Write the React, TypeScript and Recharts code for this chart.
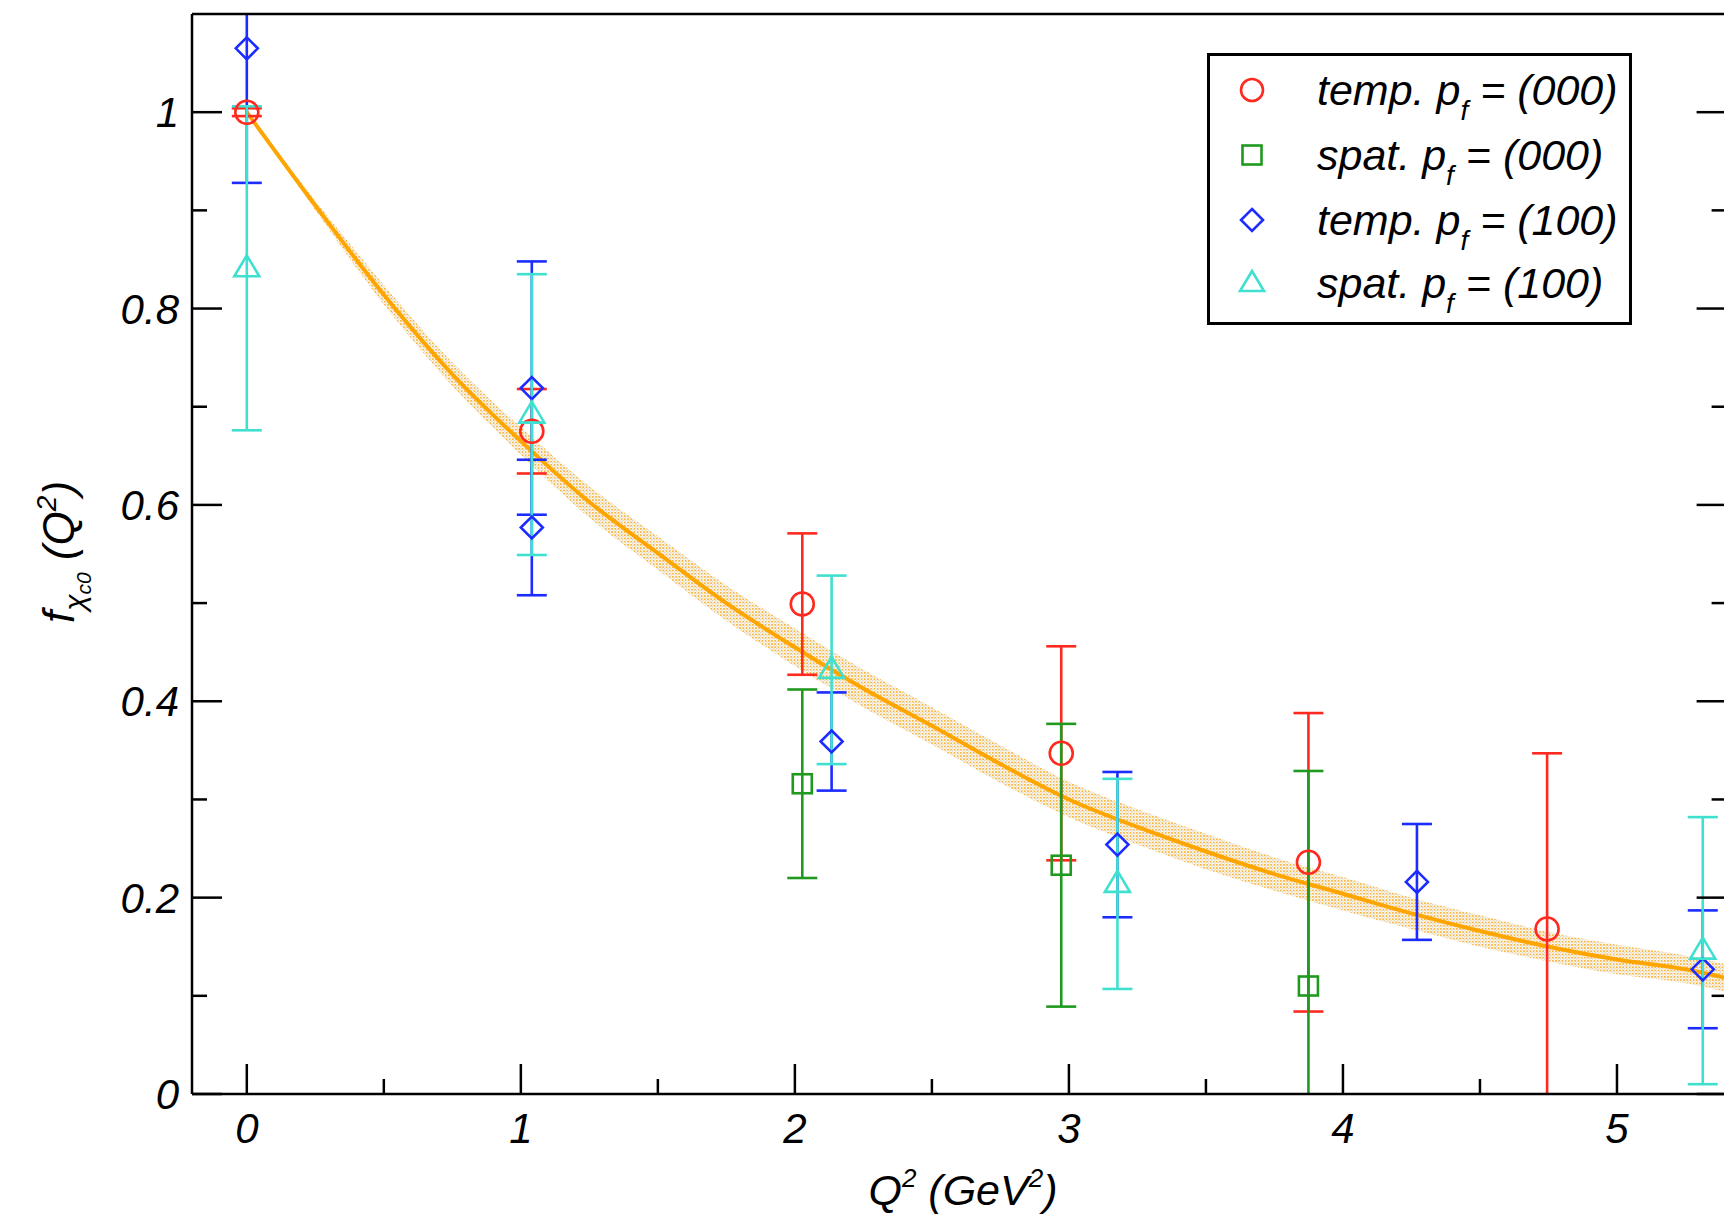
import { Area, ComposedChart, ErrorBar, Line, Scatter, XAxis, YAxis } from "recharts";

const FONT = '"Liberation Sans", Arial, Helvetica, sans-serif';
const RED = "#ff2a1f";
const GREEN = "#1f9a1f";
const BLUE = "#1c2cff";
const CYAN = "#40e0d0";
const ORANGE = "#ffa500";

// fit curve + error band
const fitQ2 = [0, 0.25, 0.5, 0.75, 1, 1.25, 1.5, 1.75, 2, 2.25, 2.5, 2.75, 3, 3.25, 3.5, 3.75, 4, 4.25, 4.5, 4.75, 5, 5.25, 5.4];
const fitF = [1.0, 0.905, 0.814, 0.733, 0.665, 0.603, 0.551, 0.5, 0.455, 0.413, 0.375, 0.336, 0.3, 0.272, 0.247, 0.224, 0.204, 0.184, 0.166, 0.15, 0.137, 0.127, 0.118];
const fitBand = [0, 0.005, 0.01, 0.012, 0.014, 0.016, 0.017, 0.018, 0.019, 0.019, 0.019, 0.019, 0.018, 0.018, 0.018, 0.017, 0.017, 0.016, 0.016, 0.015, 0.015, 0.014, 0.014];

// temp. p_f = (000)
const tempP0X = [0, 1.04, 2.027, 2.972, 3.874, 4.745];
const tempP0Y = [1.0, 0.675, 0.499, 0.347, 0.236, 0.168];
const tempP0E = [0.004, 0.043, 0.072, 0.109, 0.152, 0.179];

// spat. p_f = (000)
const spatP0X = [2.027, 2.972, 3.874];
const spatP0Y = [0.316, 0.233, 0.11];
const spatP0E = [0.096, 0.144, 0.219];

// temp. p_f = (100)
const tempP1X = [0, 1.04, 1.04, 2.134, 3.177, 4.27, 5.313];
const tempP1Y = [1.065, 0.719, 0.577, 0.359, 0.254, 0.216, 0.127];
const tempP1E = [0.137, 0.129, 0.069, 0.05, 0.074, 0.059, 0.06];

// spat. p_f = (100)
const spatP1X = [0, 1.04, 2.134, 3.177, 5.313];
const spatP1Y = [0.841, 0.692, 0.432, 0.214, 0.146];
const spatP1E = [0.165, 0.143, 0.096, 0.107, 0.136];

const xTicks = [0, 0.5, 1, 1.5, 2, 2.5, 3, 3.5, 4, 4.5, 5];
const yTicks = [0, 0.1, 0.2, 0.3, 0.4, 0.5, 0.6, 0.7, 0.8, 0.9, 1.0];

const fitData = fitQ2.map((x, i) => ({ x, y: fitF[i], band: [fitF[i] - fitBand[i], fitF[i] + fitBand[i]] }));
const pts = (xs: number[], ys: number[], es: number[]) => xs.map((x, i) => ({ x, y: ys[i], e: es[i] }));

const isMajorX = (v: number) => Math.abs(v - Math.round(v)) < 1e-6;
const isMajorY = (v: number) => Math.round(v * 10) % 2 === 0;
const MAJ = 30;
const MIN = 15;
const TW = 2.5;

// plot box (chart margins + the 1px axis boxes)
const CHART_W = 1730;
const CHART_H = 1216;
const M = { top: 13, right: 2.4, bottom: 121, left: 191 };
const PLOT = { x: M.left + 1, y: M.top + 1, w: CHART_W - M.left - M.right - 2, h: CHART_H - M.top - M.bottom - 2 };

const tickText = { fontFamily: FONT, fontStyle: "italic" as const, fontSize: 42, fill: "#000" };

function BottomTick({ x, y, payload }: any) {
  const major = isMajorX(payload.value);
  return (
    <g>
      <line x1={x} y1={y} x2={x} y2={y - (major ? MAJ : MIN)} stroke="#000" strokeWidth={TW} />
      {major && (
        <text x={x} y={y + 49} textAnchor="middle" {...tickText}>
          {payload.value}
        </text>
      )}
    </g>
  );
}

function TopTick({ x, y, payload }: any) {
  const major = isMajorX(payload.value);
  return <line x1={x} y1={y} x2={x} y2={y + (major ? MAJ : MIN)} stroke="#000" strokeWidth={TW} />;
}

function LeftTick({ x, y, payload }: any) {
  const v = payload.value;
  const major = isMajorY(v);
  const label = v === 0 ? "0" : Math.abs(v - 1) < 1e-6 ? "1" : v.toFixed(1);
  return (
    <g>
      <line x1={x} y1={y} x2={x + (major ? MAJ : MIN)} y2={y} stroke="#000" strokeWidth={TW} />
      {major && (
        <text x={x - 13} y={y + 15} textAnchor="end" {...tickText}>
          {label}
        </text>
      )}
    </g>
  );
}

function RightTick({ x, y, payload }: any) {
  const major = isMajorY(payload.value);
  return <line x1={x} y1={y} x2={x - (major ? MAJ : MIN)} y2={y} stroke="#000" strokeWidth={TW} />;
}

const SW = 2.6;
const CircleMark = ({ cx, cy }: any) => <circle cx={cx} cy={cy} r={11.5} fill="none" stroke={RED} strokeWidth={SW} />;
const SquareMark = ({ cx, cy }: any) => <rect x={cx - 9.5} y={cy - 9.5} width={19} height={19} fill="none" stroke={GREEN} strokeWidth={SW} />;
const DiamondMark = ({ cx, cy }: any) => (
  <polygon points={`${cx},${cy - 11} ${cx + 11},${cy} ${cx},${cy + 11} ${cx - 11},${cy}`} fill="none" stroke={BLUE} strokeWidth={SW} />
);
const TriangleMark = ({ cx, cy }: any) => (
  <polygon points={`${cx},${cy - 13} ${cx + 12.5},${cy + 8} ${cx - 12.5},${cy + 8}`} fill="none" stroke={CYAN} strokeWidth={SW} />
);

function LegendRow({ y, mark, label, pf }: { y: number; mark: any; label: string; pf: string }) {
  return (
    <g>
      <g transform={`translate(1252, ${y})`}>{mark}</g>
      <text x={1317} y={y + 15} fontFamily={FONT} fontStyle="italic" fontSize={43} fill="#000">
        <tspan>{label} p</tspan>
        <tspan fontSize={28} dy={15}>f</tspan>
        <tspan dy={-15}>{` = (${pf})`}</tspan>
      </text>
    </g>
  );
}

export default function App() {
  return (
    <div style={{ position: "fixed", left: 0, top: 0, width: 1724, height: 1216, overflow: "hidden", background: "#fff" }}>
      {/* error bars running past the frame get cut at the plot box */}
      <style>{`.recharts-scatter, .recharts-errorBars { clip-path: url(#plotBox); }`}</style>
      <ComposedChart width={CHART_W} height={CHART_H} margin={M}>
        <defs>
          <clipPath id="plotBox">
            <rect x={PLOT.x} y={PLOT.y} width={PLOT.w} height={PLOT.h} />
          </clipPath>
          <pattern id="bandDots" width="3.2" height="3.2" patternUnits="userSpaceOnUse">
            <rect width="3.2" height="3.2" fill="#fffaf0" />
            <rect x="0" y="0" width="1.7" height="1.7" fill="#f8b43c" />
            <rect x="1.6" y="1.6" width="1.2" height="1.2" fill="#d6d2cc" />
          </pattern>
        </defs>
        <XAxis
          dataKey="x"
          type="number"
          domain={[-0.2, 5.4]}
          allowDataOverflow
          ticks={xTicks}
          interval={0}
          height={1}
          tickSize={0}
          tickMargin={0}
          tickLine={false}
          axisLine={{ stroke: "#000", strokeWidth: TW }}
          tick={<BottomTick />}
        />
        <XAxis
          xAxisId="top"
          orientation="top"
          type="number"
          domain={[-0.2, 5.4]}
          allowDataOverflow
          ticks={xTicks}
          interval={0}
          height={1}
          tickSize={0}
          tickMargin={0}
          tickLine={false}
          axisLine={{ stroke: "#000", strokeWidth: TW }}
          tick={<TopTick />}
        />
        <YAxis
          dataKey="y"
          type="number"
          domain={[0, 1.1]}
          allowDataOverflow
          ticks={yTicks}
          interval={0}
          width={1}
          tickSize={0}
          tickMargin={0}
          tickLine={false}
          axisLine={{ stroke: "#000", strokeWidth: TW }}
          tick={<LeftTick />}
        />
        <YAxis
          yAxisId="right"
          orientation="right"
          type="number"
          domain={[0, 1.1]}
          allowDataOverflow
          ticks={yTicks}
          interval={0}
          width={1}
          tickSize={0}
          tickMargin={0}
          tickLine={false}
          axisLine={{ stroke: "#000", strokeWidth: TW }}
          tick={<RightTick />}
        />
        <Area data={fitData} dataKey="band" type="monotone" stroke="none" fill="url(#bandDots)" fillOpacity={1} isAnimationActive={false} />
        <Line data={fitData} dataKey="y" type="monotone" stroke={ORANGE} strokeWidth={4} dot={false} isAnimationActive={false} />
        <Scatter data={pts(tempP0X, tempP0Y, tempP0E)} dataKey="y" shape={<CircleMark />} isAnimationActive={false}>
          <ErrorBar dataKey="e" direction="y" width={15} stroke={RED} strokeWidth={SW} />
        </Scatter>
        <Scatter data={pts(spatP0X, spatP0Y, spatP0E)} dataKey="y" shape={<SquareMark />} isAnimationActive={false}>
          <ErrorBar dataKey="e" direction="y" width={15} stroke={GREEN} strokeWidth={SW} />
        </Scatter>
        <Scatter data={pts(tempP1X, tempP1Y, tempP1E)} dataKey="y" shape={<DiamondMark />} isAnimationActive={false}>
          <ErrorBar dataKey="e" direction="y" width={15} stroke={BLUE} strokeWidth={SW} />
        </Scatter>
        <Scatter data={pts(spatP1X, spatP1Y, spatP1E)} dataKey="y" shape={<TriangleMark />} isAnimationActive={false}>
          <ErrorBar dataKey="e" direction="y" width={15} stroke={CYAN} strokeWidth={SW} />
        </Scatter>
      </ComposedChart>

      <svg width={1724} height={1216} style={{ position: "absolute", left: 0, top: 0, pointerEvents: "none" }}>
        <rect x={1208.5} y={54.5} width={422} height={269} fill="#fff" stroke="#000" strokeWidth={3} />
        <LegendRow y={90} mark={<circle cx={0} cy={0} r={11} fill="none" stroke={RED} strokeWidth={SW} />} label="temp." pf="000" />
        <LegendRow y={155} mark={<rect x={-9.5} y={-9.5} width={19} height={19} fill="none" stroke={GREEN} strokeWidth={SW} />} label="spat." pf="000" />
        <LegendRow y={220} mark={<polygon points="0,-11 11,0 0,11 -11,0" fill="none" stroke={BLUE} strokeWidth={SW} />} label="temp." pf="100" />
        <LegendRow y={283} mark={<polygon points="0,-12 12,8 -12,8" fill="none" stroke={CYAN} strokeWidth={SW} />} label="spat." pf="100" />

        <text x={963} y={1205} textAnchor="middle" fontFamily={FONT} fontStyle="italic" fontSize={43} fill="#000">
          <tspan>Q</tspan>
          <tspan fontSize={26} dy={-18}>2</tspan>
          <tspan dy={18}> (GeV</tspan>
          <tspan fontSize={26} dy={-18}>2</tspan>
          <tspan dy={18}>)</tspan>
        </text>

        <text transform="rotate(-90, 74, 552)" x={74} y={552} textAnchor="middle" fontFamily={FONT} fontStyle="italic" fontSize={44} fill="#000">
          <tspan>f</tspan>
          <tspan fontSize={30} dy={11}>χ</tspan>
          <tspan fontSize={21} dy={6}>c0</tspan>
          <tspan fontSize={44} dy={-17}> (Q</tspan>
          <tspan fontSize={28} dy={-18}>2</tspan>
          <tspan fontSize={44} dy={18}>)</tspan>
        </text>
      </svg>
    </div>
  );
}
